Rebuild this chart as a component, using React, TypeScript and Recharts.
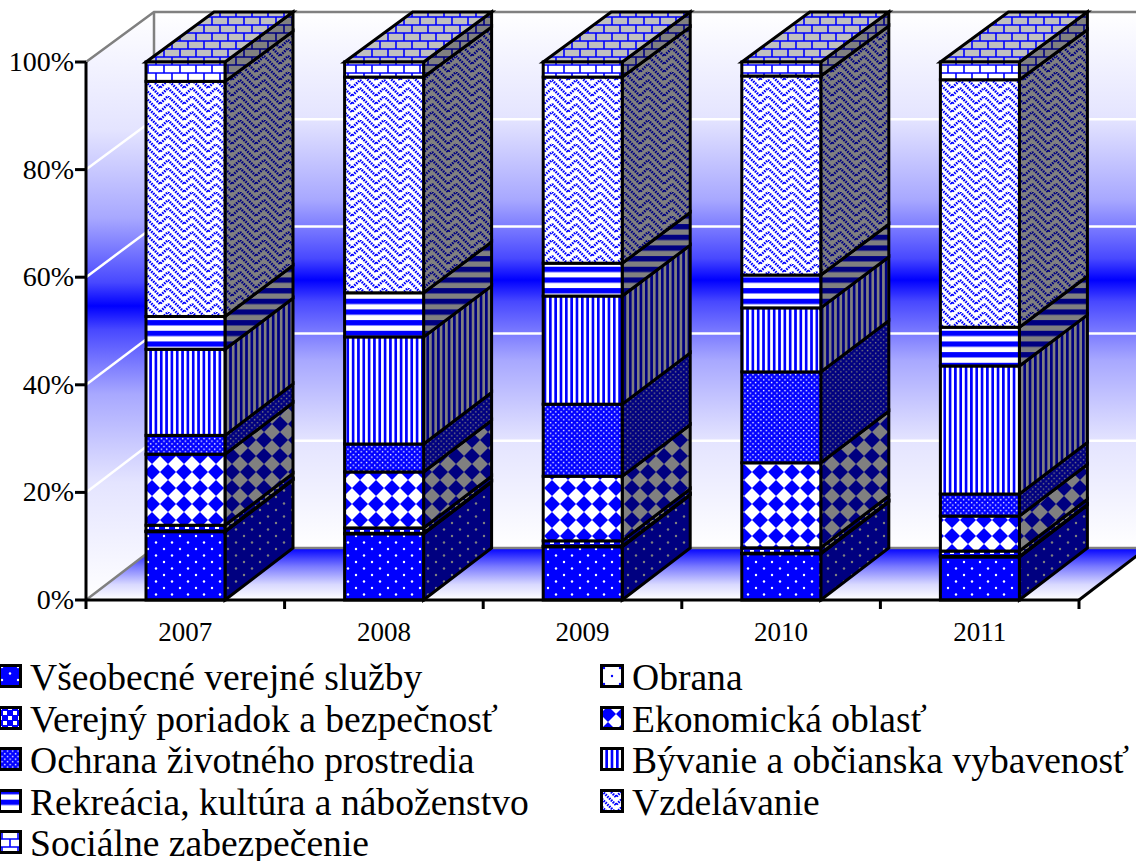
import React from 'react';
import { BarChart, Bar, XAxis, YAxis, Legend, Customized } from 'recharts';

// Expenditure shares per year, in percent of the yearly total.
const years = ['2007', '2008', '2009', '2010', '2011'];
const vseobecne = [12.7, 12.3, 9.9, 8.6, 8.0];
const obrana = [0.1, 0.1, 0.1, 0.1, 0.1];
const poriadok = [1.1, 1.0, 1.0, 1.0, 1.0];
const ekonomicka = [13.2, 10.4, 12.0, 15.8, 6.5];
const zivotne = [3.5, 5.2, 13.4, 16.9, 4.1];
const byvanie = [16.0, 19.9, 20.1, 11.9, 23.8];
const rekreacia = [6.1, 8.2, 6.1, 6.1, 7.2];
const vzdelavanie = [43.7, 40.1, 34.6, 37.0, 46.0];
const socialne = [3.6, 2.8, 2.8, 2.6, 3.3];

const yTicks = [0, 20, 40, 60, 80, 100];

const BLUE = '#0000ff';
const NAVY = '#000080';
const GREY = '#808080';
const SILVER = '#c0c0c0';
const WHITE = '#ffffff';
const SERIF = '"Liberation Serif", serif';

// Plot frame and the oblique offset of the back plane.
const W = 1136;
const H = 861;
const LEFT = 86;
const RIGHT = 1079;
const TOP = 62;
const BOTTOM = 600;
const DEPTH_X = 68;
const BACK_TOP = 12;
const BACK_BOTTOM = 548;
const KEY_TOP = 655;
const KEY_HEIGHT = H - KEY_TOP;

const backY = (y: number) =>
  BACK_BOTTOM - ((BOTTOM - y) * (BACK_BOTTOM - BACK_TOP)) / (BOTTOM - TOP);
const frontY = (v: number) => BOTTOM - ((BOTTOM - TOP) * v) / 100;

type Tile = {
  w: number;
  h: number;
  draw: (fg: string, bg: string) => React.ReactNode;
};

// Diagonal zigzag bands of the weave fill, one path per vertical offset inside its tile.
const weaveOffsets = [-24, -16, -8, 0, 8, 16];

const tiles: Record<string, Tile> = {
  dots: {
    w: 16,
    h: 13,
    draw: (fg, bg) => (
      <>
        <rect width={16} height={13} fill={fg} />
        <circle cx={4} cy={3} r={1.2} fill={bg} />
        <circle cx={12} cy={9.5} r={1.2} fill={bg} />
      </>
    ),
  },
  sparse: {
    w: 16,
    h: 16,
    draw: (fg, bg) => (
      <>
        <rect width={16} height={16} fill={bg} />
        <circle cx={4} cy={4} r={1.2} fill={fg} />
        <circle cx={12} cy={12} r={1.2} fill={fg} />
      </>
    ),
  },
  rings: {
    w: 10,
    h: 10,
    draw: (fg, bg) => (
      <>
        <rect width={10} height={10} fill={fg} />
        <rect x={0} y={0} width={4} height={4} fill={bg} />
        <rect x={5} y={5} width={4} height={4} fill={bg} />
      </>
    ),
  },
  diamonds: {
    w: 16,
    h: 16,
    draw: (fg, bg) => (
      <>
        <rect width={16} height={16} fill={bg} />
        <polygon points="8,0 16,8 8,16 0,8" fill={fg} />
      </>
    ),
  },
  fineDots: {
    w: 5.33,
    h: 5.33,
    draw: (fg, bg) => (
      <>
        <rect width={5.33} height={5.33} fill={fg} />
        <rect x={0.8} y={0.8} width={1.4} height={1.4} fill={bg} />
        <rect x={3.4} y={3.4} width={1.4} height={1.4} fill={bg} />
      </>
    ),
  },
  vertical: {
    w: 5.33,
    h: 8,
    draw: (fg, bg) => (
      <>
        <rect width={5.33} height={8} fill={bg} />
        <rect width={2.67} height={8} fill={fg} />
      </>
    ),
  },
  horizontal: {
    w: 8,
    h: 10.67,
    draw: (fg, bg) => (
      <>
        <rect width={8} height={10.67} fill={bg} />
        <rect width={8} height={5.33} fill={fg} />
      </>
    ),
  },
  weave: {
    w: 24,
    h: 24,
    draw: (fg, bg) => (
      <>
        <rect width={24} height={24} fill={bg} />
        {weaveOffsets.map((o) => (
          <path
            key={o}
            d={`M0 ${o} L16 ${o + 16} L24 ${o + 8}`}
            stroke={fg}
            strokeWidth={2.6}
            strokeDasharray="1.6 1"
            fill="none"
          />
        ))}
      </>
    ),
  },
  bricks: {
    w: 16,
    h: 16,
    draw: (fg, bg) => (
      <>
        <rect width={16} height={16} fill={bg} />
        <path
          d="M0 1 H16 M0 9 H16 M4 1 V9 M12 9 V16 M12 0 V1"
          stroke={fg}
          strokeWidth={1.6}
          fill="none"
        />
      </>
    ),
  },
};

type Face = { suffix: string; fg: string; bg: string };
const faces: Face[] = [
  { suffix: 'front', fg: BLUE, bg: WHITE },
  { suffix: 'side', fg: NAVY, bg: GREY },
  { suffix: 'top', fg: BLUE, bg: SILVER },
];

const seriesList = [
  { key: 'vseobecne', name: 'Všeobecné verejné služby', tile: 'dots', values: vseobecne },
  { key: 'obrana', name: 'Obrana', tile: 'sparse', values: obrana },
  { key: 'poriadok', name: 'Verejný poriadok a bezpečnosť', tile: 'rings', values: poriadok },
  { key: 'ekonomicka', name: 'Ekonomická oblasť', tile: 'diamonds', values: ekonomicka },
  { key: 'zivotne', name: 'Ochrana životného prostredia', tile: 'fineDots', values: zivotne },
  { key: 'byvanie', name: 'Bývanie a občianska vybavenosť', tile: 'vertical', values: byvanie },
  { key: 'rekreacia', name: 'Rekreácia, kultúra a náboženstvo', tile: 'horizontal', values: rekreacia },
  { key: 'vzdelavanie', name: 'Vzdelávanie', tile: 'weave', values: vzdelavanie },
  { key: 'socialne', name: 'Sociálne zabezpečenie', tile: 'bricks', values: socialne },
];

const rows = years.map((year, i) => {
  const row: Record<string, string | number> = { year };
  seriesList.forEach((s) => {
    row[s.key] = s.values[i];
  });
  return row;
});

// One block of a stacked column: front face, receding side and, on the last series, the lid.
const makeBlock = (tile: string, withTop: boolean) => (props: any) => {
  const { x, y, width, height } = props;
  const r = x + width;
  const b = y + height;
  const edge = { stroke: '#000', strokeWidth: 3, strokeLinejoin: 'miter' as const };
  return (
    <g>
      <polygon
        points={`${r},${y} ${r + DEPTH_X},${backY(y)} ${r + DEPTH_X},${backY(b)} ${r},${b}`}
        fill={`url(#${tile}-side)`}
        {...edge}
      />
      {withTop && (
        <polygon
          points={`${x},${y} ${x + DEPTH_X},${backY(y)} ${r + DEPTH_X},${backY(y)} ${r},${y}`}
          fill={`url(#${tile}-top)`}
          {...edge}
        />
      )}
      <rect x={x} y={y} width={width} height={height} fill={`url(#${tile}-front)`} {...edge} />
    </g>
  );
};

// Back wall, side wall, floor, their grid lines and the tick marks between categories.
const Room = () => {
  const backRight = RIGHT + DEPTH_X;
  const catWidth = (RIGHT - LEFT) / years.length;
  const inner = yTicks.filter((t) => t > 0 && t < 100);
  return (
    <g>
      <polygon
        points={`${LEFT + DEPTH_X},${BACK_TOP} ${backRight},${BACK_TOP} ${backRight},${BACK_BOTTOM} ${LEFT + DEPTH_X},${BACK_BOTTOM}`}
        fill="url(#wallShade)"
      />
      <polygon
        points={`${LEFT},${TOP} ${LEFT + DEPTH_X},${BACK_TOP} ${LEFT + DEPTH_X},${BACK_BOTTOM} ${LEFT},${BOTTOM}`}
        fill="url(#wallShade)"
      />
      <polygon
        points={`${LEFT},${BOTTOM} ${LEFT + DEPTH_X},${BACK_BOTTOM} ${backRight},${BACK_BOTTOM} ${RIGHT},${BOTTOM}`}
        fill="url(#floorShade)"
      />
      {inner.map((t) => {
        const f = frontY(t);
        const k = backY(f);
        return (
          <g key={t} stroke={WHITE} strokeWidth={2.5}>
            <line x1={LEFT} y1={f} x2={LEFT + DEPTH_X} y2={k} />
            <line x1={LEFT + DEPTH_X} y1={k} x2={backRight} y2={k} />
          </g>
        );
      })}
      <g stroke={GREY} strokeWidth={2.5} fill="none">
        <polyline
          points={`${LEFT},${TOP} ${LEFT + DEPTH_X},${BACK_TOP} ${backRight},${BACK_TOP}`}
        />
        <line x1={LEFT + DEPTH_X} y1={BACK_TOP} x2={LEFT + DEPTH_X} y2={BACK_BOTTOM} />
        <polyline
          points={`${LEFT},${BOTTOM} ${LEFT + DEPTH_X},${BACK_BOTTOM} ${backRight},${BACK_BOTTOM}`}
        />
      </g>
      <line x1={RIGHT} y1={BOTTOM} x2={backRight} y2={BACK_BOTTOM} stroke="#000" strokeWidth={3} />
      {years.concat('').map((_, i) => (
        <line
          key={i}
          x1={LEFT + catWidth * i}
          x2={LEFT + catWidth * i}
          y1={BOTTOM}
          y2={BOTTOM + 9}
          stroke="#000"
          strokeWidth={3}
        />
      ))}
    </g>
  );
};

const tileOf = (key: unknown) => seriesList.find((s) => s.key === key)?.tile ?? 'dots';

// Two-column key below the plot, filled row by row.
const KeyBlock = ({ payload }: any) => (
  <div
    style={{
      display: 'grid',
      gridTemplateColumns: '602px 534px',
      gridAutoRows: '41.5px',
      height: KEY_HEIGHT,
      overflow: 'visible',
      fontFamily: SERIF,
      fontSize: 37.6,
      color: '#000',
      whiteSpace: 'nowrap',
    }}
  >
    {(payload ?? []).map((entry: any) => (
      <div key={entry.value} style={{ position: 'relative', height: 41.5 }}>
        <svg
          width={24}
          height={24}
          style={{ position: 'absolute', left: -2, top: 9, overflow: 'visible' }}
        >
          <rect
            x={1.5}
            y={1.5}
            width={21}
            height={21}
            fill={`url(#${tileOf(entry.dataKey)}-front)`}
            stroke="#000"
            strokeWidth={3}
          />
        </svg>
        <span style={{ position: 'absolute', left: 30, top: 6, lineHeight: '34px' }}>
          {entry.value}
        </span>
      </div>
    ))}
  </div>
);

export default function App() {
  return (
    <div style={{ position: 'absolute', left: 0, top: 0, width: W, height: H, overflow: 'hidden' }}>
      <BarChart
        width={W}
        height={H}
        data={rows}
        barSize={79}
        margin={{ top: TOP, right: W - RIGHT, bottom: 0, left: 0 }}
      >
        <defs>
          <linearGradient id="wallShade" x1="0" y1="0" x2="0" y2="1">
            <stop offset="0" stopColor="#ffffff" />
            <stop offset="0.2" stopColor="#e4e4ff" />
            <stop offset="0.35" stopColor="#a8a8ff" />
            <stop offset="0.46" stopColor="#4848ff" />
            <stop offset="0.5" stopColor="#0000ff" />
            <stop offset="0.54" stopColor="#4848ff" />
            <stop offset="0.65" stopColor="#a8a8ff" />
            <stop offset="0.8" stopColor="#e4e4ff" />
            <stop offset="1" stopColor="#ffffff" />
          </linearGradient>
          <linearGradient id="floorShade" x1="0" y1="0" x2="0" y2="1">
            <stop offset="0" stopColor="#0000ff" />
            <stop offset="0.35" stopColor="#7878ff" />
            <stop offset="0.7" stopColor="#d8d8ff" />
            <stop offset="1" stopColor="#ffffff" />
          </linearGradient>
          {Object.entries(tiles).flatMap(([id, tile]) =>
            faces.map((face) => (
              <pattern
                key={`${id}-${face.suffix}`}
                id={`${id}-${face.suffix}`}
                width={tile.w}
                height={tile.h}
                patternUnits="userSpaceOnUse"
              >
                {tile.draw(face.fg, face.bg)}
              </pattern>
            )),
          )}
        </defs>
        <Customized component={Room} />
        <XAxis
          dataKey="year"
          height={H - BOTTOM - KEY_HEIGHT}
          tickLine={false}
          axisLine={{ stroke: '#000', strokeWidth: 3 }}
          tickMargin={16}
          tick={{ fill: '#000', fontFamily: SERIF, fontSize: 27 }}
        />
        <YAxis
          width={LEFT}
          domain={[0, 100]}
          ticks={yTicks}
          tickFormatter={(v: number) => `${v}%`}
          tickSize={11}
          tickMargin={1}
          tickLine={{ stroke: '#000', strokeWidth: 3 }}
          axisLine={{ stroke: '#000', strokeWidth: 3 }}
          tick={{ fill: '#000', fontFamily: SERIF, fontSize: 28, dy: -1 }}
        />
        <Legend
          content={<KeyBlock />}
          itemSorter={null}
          wrapperStyle={{ left: 0, width: W, height: KEY_HEIGHT, bottom: 0 }}
          align="left"
          verticalAlign="bottom"
        />
        {seriesList.map((s, i) => (
          <Bar
            key={s.key}
            dataKey={s.key}
            name={s.name}
            stackId="shares"
            fill={BLUE}
            isAnimationActive={false}
            shape={makeBlock(s.tile, i === seriesList.length - 1)}
          />
        ))}
      </BarChart>
    </div>
  );
}
